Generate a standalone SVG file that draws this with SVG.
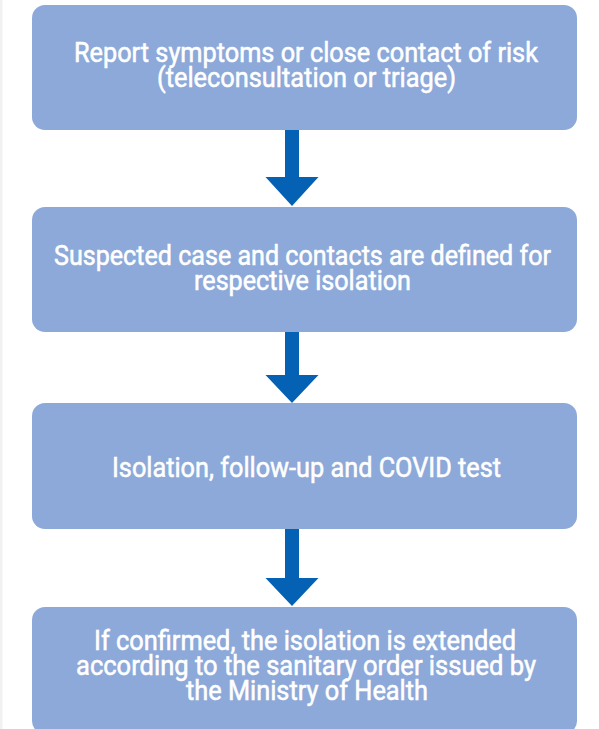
<svg xmlns="http://www.w3.org/2000/svg" width="599" height="729" viewBox="0 0 599 729">
  <style>
    .box { fill: #8CA9D9; }
    .label { fill: #ffffff; stroke: #ffffff; stroke-width: 0.55px; font-family: Roboto, "Liberation Sans", Arial, sans-serif; font-size: 27px; font-weight: 400; }
    .arrow { fill: #0461B4; }
  </style>
  <rect x="0" y="0" width="599" height="729" fill="#ffffff"/>
  <rect x="0" y="0" width="2.5" height="729" fill="#f1f1f1"/>

  <g id="step-report">
    <rect class="box" x="32" y="5" width="545" height="125" rx="13" ry="13"/>
    <text class="label">
      <tspan x="74" y="62" textLength="464" lengthAdjust="spacingAndGlyphs">Report symptoms or close contact of risk</tspan>
      <tspan x="157" y="87" textLength="299" lengthAdjust="spacingAndGlyphs">(teleconsultation or triage)</tspan>
    </text>
  </g>

  <g id="step-define">
    <rect class="box" x="32" y="207" width="545" height="125" rx="13" ry="13"/>
    <text class="label">
      <tspan x="54" y="265" textLength="497" lengthAdjust="spacingAndGlyphs">Suspected case and contacts are defined for</tspan>
      <tspan x="194" y="290" textLength="217" lengthAdjust="spacingAndGlyphs">respective isolation</tspan>
    </text>
  </g>

  <g id="step-isolate">
    <rect class="box" x="32" y="403" width="545" height="126" rx="13" ry="13"/>
    <text class="label" x="112" y="477" textLength="389" lengthAdjust="spacingAndGlyphs">Isolation, follow-up and COVID test</text>
  </g>

  <g id="step-extend">
    <rect class="box" x="32" y="607" width="545" height="127" rx="13" ry="13"/>
    <text class="label">
      <tspan x="94" y="650" textLength="422" lengthAdjust="spacingAndGlyphs">If confirmed, the isolation is extended</tspan>
      <tspan x="76" y="675" textLength="460" lengthAdjust="spacingAndGlyphs">according to the sanitary order issued by</tspan>
      <tspan x="186" y="700" textLength="242" lengthAdjust="spacingAndGlyphs">the Ministry of Health</tspan>
    </text>
  </g>

  <g id="connectors">
    <polygon class="arrow" points="285,130 299,130 299,177 318.5,177 292,206 265.5,177 285,177"/>
    <polygon class="arrow" points="285,332 299,332 299,375 318.5,375 292,403 265.5,375 285,375"/>
    <polygon class="arrow" points="285,529 299,529 299,578 318.5,578 292,606 265.5,578 285,578"/>
  </g>
</svg>
